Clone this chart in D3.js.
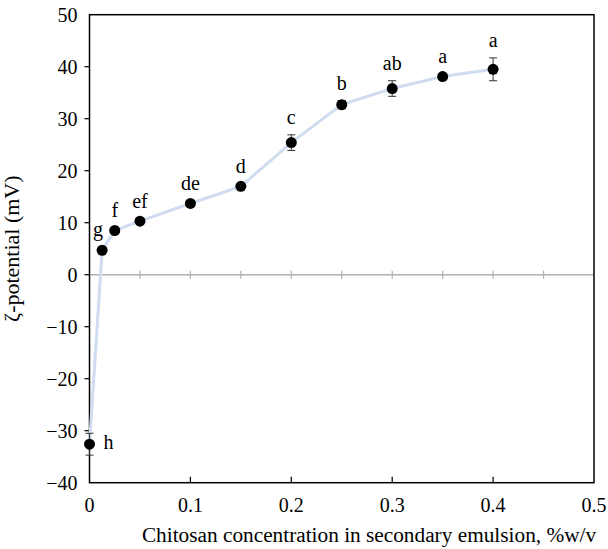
<!DOCTYPE html>
<html><head><meta charset="utf-8">
<script src="https://cdn.jsdelivr.net/npm/d3@7/dist/d3.min.js"></script>
<style>body{margin:0;background:#fff}svg{display:block}</style>
</head><body><svg id="c" width="608" height="549" font-family="'Liberation Serif', 'Times New Roman', Tinos, 'DejaVu Serif', serif"></svg>
<script>
const concentrations = [0, 0.0125, 0.025, 0.05, 0.1, 0.15, 0.2, 0.25, 0.3, 0.35, 0.4];
const zeta = [-32.6, 4.7, 8.5, 10.3, 13.7, 17.0, 25.4, 32.7, 35.8, 38.1, 39.5];
const errors = [2.1, 0.4, 0.5, 0.4, 0.5, 0.5, 1.5, 0.8, 1.5, 0.5, 2.2];
const letters = ["h", "g", "f", "ef", "de", "d", "c", "b", "ab", "a", "a"];
const xTicks = [0, 0.1, 0.2, 0.3, 0.4, 0.5];
const yTicks = [-40, -30, -20, -10, 0, 10, 20, 30, 40, 50];
const zeroTicks = [0.05, 0.1, 0.15, 0.2, 0.25, 0.3, 0.35, 0.4, 0.45];

const svg = d3.select("#c");
const L = 89.5, R = 594, T = 14.7, B = 482.7;
const x = d3.scaleLinear().domain([0, 0.5]).range([L, R]);
const y = d3.scaleLinear().domain([-40, 50]).range([B, T]);
const data = concentrations.map((c, i) => ({c, v: zeta[i], e: errors[i], l: letters[i]}));

// zero line with gray ticks
svg.append("line").attr("x1", L).attr("x2", R).attr("y1", y(0)).attr("y2", y(0))
  .attr("stroke", "#b0b0b0").attr("stroke-width", 1.5);
svg.selectAll(".zt").data(zeroTicks).join("line")
  .attr("x1", d => x(d)).attr("x2", d => x(d)).attr("y1", y(0) - 4).attr("y2", y(0) + 4)
  .attr("stroke", "#b0b0b0").attr("stroke-width", 1.2);

// frame
svg.append("rect").attr("x", L).attr("y", T).attr("width", R - L).attr("height", B - T)
  .attr("fill", "none").attr("stroke", "#000").attr("stroke-width", 1.5);

// y ticks (outward)
svg.selectAll(".yt").data(yTicks.filter(t => t > -40 && t < 50)).join("line")
  .attr("x1", L - 5).attr("x2", L).attr("y1", d => y(d)).attr("y2", d => y(d))
  .attr("stroke", "#000").attr("stroke-width", 1.2);
svg.selectAll(".yl").data(yTicks).join("text")
  .attr("x", 77.5).attr("y", d => y(d)).attr("dy", "0.35em").attr("text-anchor", "end")
  .attr("font-size", 20).text(d => d < 0 ? "\u2212" + Math.abs(d) : d);

// x ticks (inward)
svg.selectAll(".xt").data(xTicks.filter(t => t > 0 && t < 0.5)).join("line")
  .attr("x1", d => x(d)).attr("x2", d => x(d)).attr("y1", B).attr("y2", B - 6)
  .attr("stroke", "#000").attr("stroke-width", 1.2);
svg.selectAll(".xl").data(xTicks).join("text")
  .attr("x", d => x(d)).attr("y", 512).attr("text-anchor", "middle")
  .attr("font-size", 20).text(d => d);

// axis titles
svg.append("text").attr("x", 369).attr("y", 542).attr("text-anchor", "middle")
  .attr("font-size", 21.3).text("Chitosan concentration in secondary emulsion, %w/v");
svg.append("text").attr("transform", `translate(19,${(T + B) / 2}) rotate(-90)`)
  .attr("text-anchor", "middle").attr("font-size", 22).text("\u03B6-potential (mV)");

// line
svg.append("path").datum(data)
  .attr("d", d3.line().x(d => x(d.c)).y(d => y(d.v)))
  .attr("fill", "none").attr("stroke", "#d0dcf0").attr("stroke-width", 3);

// error bars
const eb = svg.selectAll(".eb").data(data).join("g").attr("stroke", "#333").attr("stroke-width", 1);
eb.append("line").attr("x1", d => x(d.c)).attr("x2", d => x(d.c))
  .attr("y1", d => y(d.v - d.e)).attr("y2", d => y(d.v + d.e));
eb.append("line").attr("x1", d => x(d.c) - 4).attr("x2", d => x(d.c) + 4)
  .attr("y1", d => y(d.v - d.e)).attr("y2", d => y(d.v - d.e));
eb.append("line").attr("x1", d => x(d.c) - 4).attr("x2", d => x(d.c) + 4)
  .attr("y1", d => y(d.v + d.e)).attr("y2", d => y(d.v + d.e));

// points
svg.selectAll(".pt").data(data).join("circle")
  .attr("cx", d => x(d.c)).attr("cy", d => y(d.v)).attr("r", 5.5).attr("fill", "#000");

// letters
svg.selectAll(".lb").data(data).join("text")
  .attr("font-size", 20)
  .attr("text-anchor", (d, i) => i === 0 ? "start" : "middle")
  .attr("x", (d, i) => i === 0 ? x(d.c) + 14 : i === 1 ? x(d.c) - 4 : x(d.c))
  .attr("y", (d, i) => i === 0 ? y(d.v) + 5 : i === 1 ? y(d.v) - 14 : y(d.v + d.e) - 11)
  .text(d => d.l);
</script></body></html>
